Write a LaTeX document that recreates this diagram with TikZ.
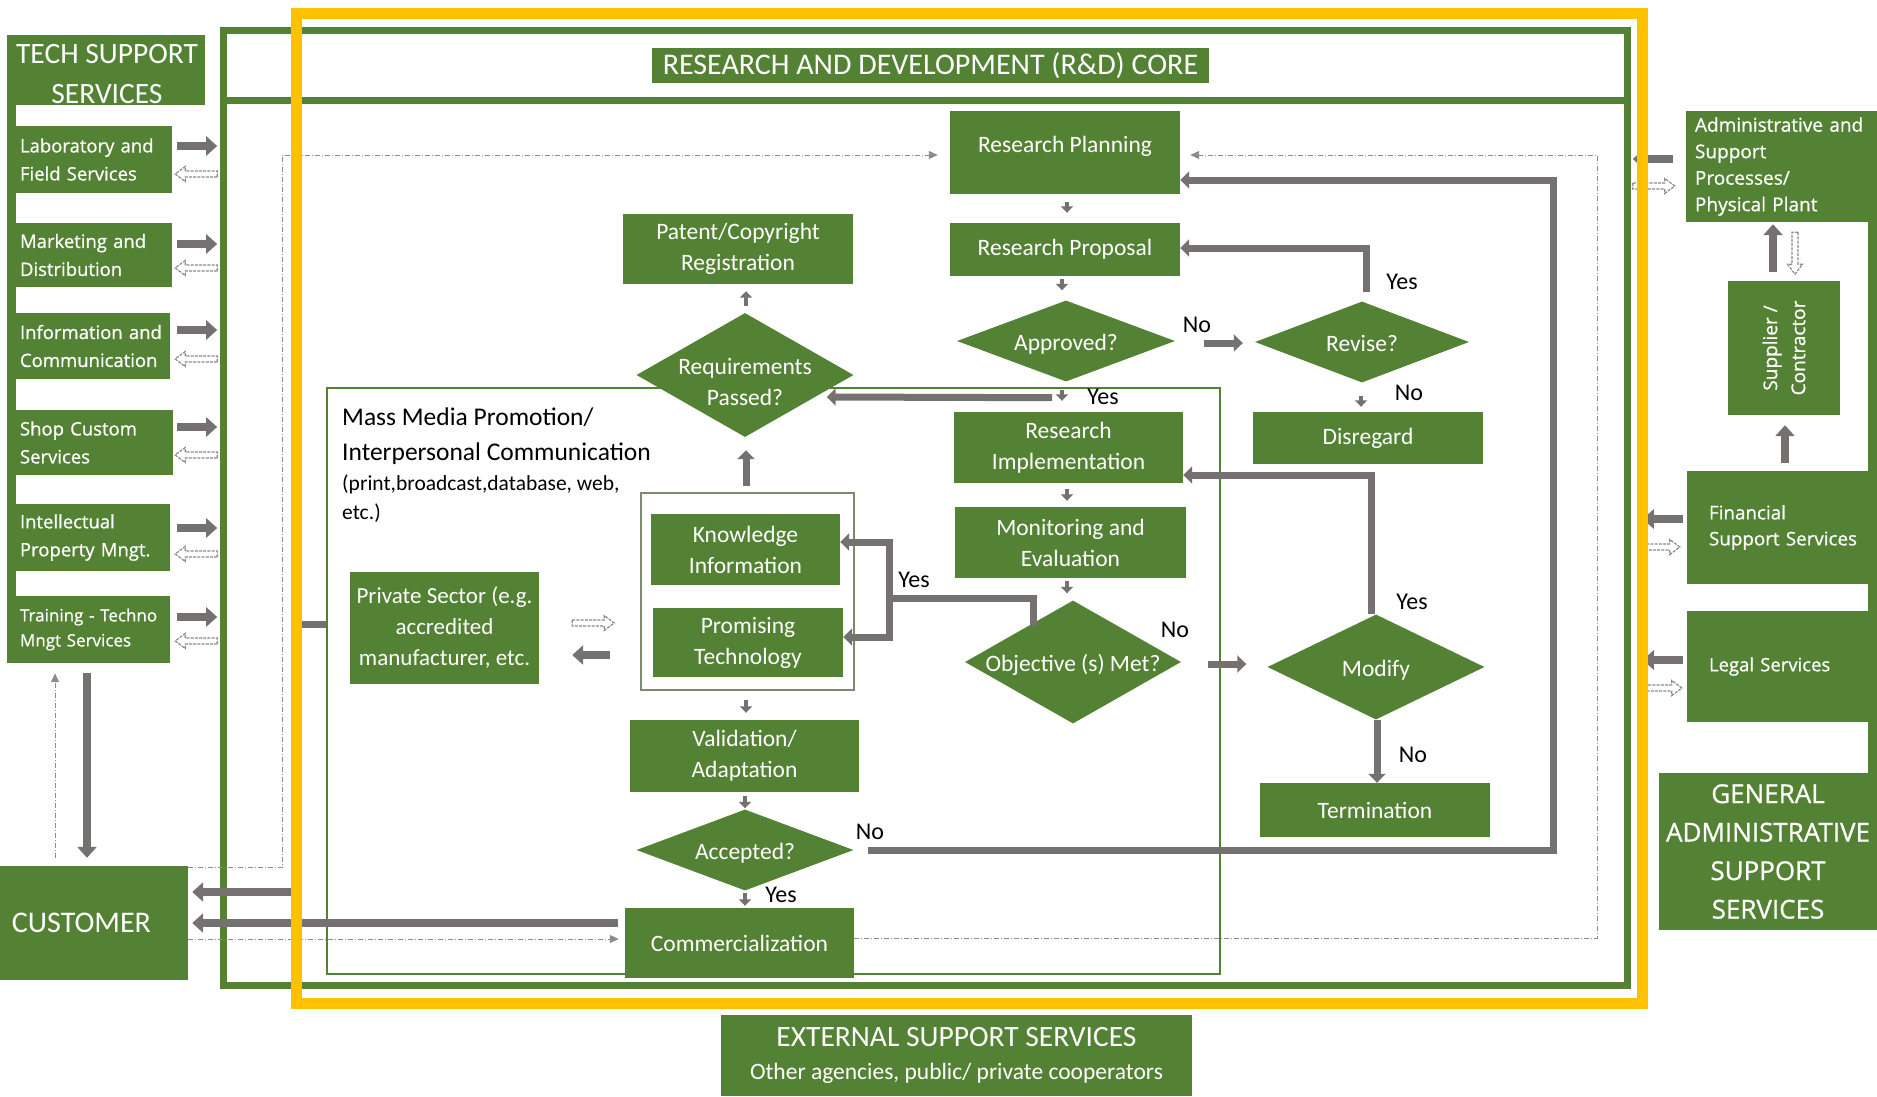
\documentclass[tikz,border=0pt]{standalone}
\usepackage{fontspec}
\setmainfont{Carlito}
\newfontfamily\osans{Open Sans}[FakeBold=0.7]
\usetikzlibrary{shapes.geometric,arrows.meta,calc}
\definecolor{dgreen}{HTML}{548235}
\definecolor{agray}{HTML}{767171}
\definecolor{ygold}{HTML}{FFC000}
\definecolor{dgray}{HTML}{8C8C8C}
\definecolor{hgray}{HTML}{8A8A8A}
\definecolor{fgray}{HTML}{7D8A70}
\newcommand{\dtxt}[2][-.42em]{\smash{\makebox[0pt]{\raisebox{#1}{\begin{tabular}{@{}c@{}}#2\end{tabular}}}}}
\tikzset{
  harrow/.pic={\path[draw=hgray, line width=1.2pt, dash pattern=on 3pt off 1.2pt, fill=white] (0,-3) -- (32,-3) -- (32,-7.5) -- (42,0) -- (32,7.5) -- (32,3) -- (0,3) -- cycle;}
}
\begin{document}
\begin{tikzpicture}[x=1pt,y=-1pt,
  gbox/.style={fill=dgreen, draw=none, text=white, inner sep=0pt, align=center, font=\fontsize{23.5}{31}\selectfont},
  gdia/.style={diamond, fill=dgreen, draw=none, text=white, inner sep=0pt, font=\fontsize{23.5}{31}\selectfont},
  sbox/.style={fill=dgreen, draw=none, text=white, inner ysep=0pt, inner xsep=4pt, align=left, font=\osans\fontsize{18.5}{28}\selectfont},
  lbl/.style={text=black, inner sep=0pt, font=\fontsize{24}{28}\selectfont},
  flowarr/.style={draw=agray, line width=7pt, -{Triangle[length=9pt,width=17pt]}},
  flowline/.style={draw=agray, line width=7pt},
  smallarr/.style={draw=agray, line width=4.5pt, -{Triangle[length=6.5pt,width=12pt]}},
  blockarr/.style={draw=agray, line width=8pt, -{Triangle[length=11pt,width=19pt]}},
  ddl/.style={draw=dgray, line width=1pt, dash pattern=on 5pt off 2pt on 1pt off 2pt},
  ddarr/.style={ddl, -{Triangle[length=9pt,width=8pt]}}
]
\fill[white] (0,0) rectangle (1877,1096);
\useasboundingbox (0,0) rectangle (1877,1096);

% ---- frames
\node[draw=dgreen, line width=7pt, minimum width=1404, minimum height=955, inner sep=0pt] (outer) at (925,507.5) {};
\draw[dgreen, line width=7pt] (outer.west |- 0,100) -- (outer.east |- 0,100);
\node[draw=dgreen, line width=2pt, minimum width=893, minimum height=586, inner sep=0pt] (mass) at (773.5,681) {};
\node[draw=fgray, line width=1.5pt, minimum width=213, minimum height=197, inner sep=0pt] (kif) at (747.5,591.5) {};

% ---- left column
\node[fill=dgreen, minimum width=198, minimum height=70, inner sep=0pt] (tsHead) at (106,70) {};
\node[text=white, align=center, inner sep=0pt, font=\fontsize{29.5}{40}\selectfont] (tsT) at (107,74) {TECH SUPPORT\\SERVICES};
\node[fill=dgreen, minimum width=9, minimum height=628, inner sep=0pt] (lstrip) at (11.5,349) {};
\node[sbox, minimum width=156, minimum height=67, text width=148] (lab) at (94,159.5) {Laboratory and\\Field Services};
\node[sbox, minimum width=156, minimum height=64, text width=148] (mkt) at (94,255) {Marketing and\\Distribution};
\node[sbox, minimum width=154, minimum height=66, text width=146] (info) at (93,346) {Information and\\Communication};
\node[sbox, minimum width=157, minimum height=65, text width=149] (shop) at (94.5,442.5) {Shop Custom\\Services};
\node[sbox, minimum width=154, minimum height=67, text width=146] (ip) at (93,537.5) {Intellectual\\Property Mngt.};
\node[sbox, minimum width=154, minimum height=67, text width=146, font=\osans\fontsize{17}{25}\selectfont] (train) at (93,629.5) {\mbox{Training - Techno}\\Mngt Services};
\node[fill=dgreen, text=white, minimum width=188, minimum height=114, inner xsep=12pt, inner ysep=0pt, text width=164, align=left, font=\fontsize{30}{34}\selectfont] (cust) at (94,923) {CUSTOMER};

% ---- right column
\node[sbox, inner xsep=9pt, text width=173, minimum width=191, minimum height=111, font=\osans\fontsize{19}{26.5}\selectfont] (admin) at (1781.5,166.5) {\mbox{Administrative and}\\Support\\Processes/\\Physical Plant};
\node[fill=dgreen, minimum width=9, minimum height=662, inner sep=0pt] (rstrip) at (1872.5,442) {};
\node[gbox, minimum width=112, minimum height=134] (supp) at (1784,348) {};
\node[text=white, rotate=90, align=center, inner sep=0pt, font=\osans\fontsize{19}{28}\selectfont] (suppT) at (supp.center) {Supplier /\\Contractor};
\node[sbox, inner xsep=22pt, text width=146, minimum width=190, minimum height=113, font=\osans\fontsize{18.8}{26}\selectfont] (fin) at (1782,527.5) {Financial\\\mbox{Support Services}};
\node[sbox, inner xsep=22pt, text width=146, minimum width=190, minimum height=111, font=\osans\fontsize{18.5}{26}\selectfont] (legal) at (1782,666.5) {\mbox{Legal Services}};
\node[gbox, minimum width=218, minimum height=157, font=\osans\fontsize{26}{38.5}\selectfont] (gen) at (1768,851.5) {GENERAL\\ADMINISTRATIVE\\SUPPORT\\SERVICES};

% ---- bottom
\node[gbox, minimum width=471, minimum height=81, font=\fontsize{29.5}{33}\selectfont] (ext) at (956.5,1055.5) {EXTERNAL SUPPORT SERVICES\\{\fontsize{23.5}{26}\selectfont Other agencies, public/ private cooperators}};

% ---- core
\node[gbox, minimum width=557, minimum height=35, font=\fontsize{30}{34}\selectfont] (title) at (930.5,65.5) {RESEARCH AND DEVELOPMENT (R\&D) CORE};
\node[gbox, minimum width=230, minimum height=83] (rp) at (1065,152.5) {};
\node[text=white, inner sep=0pt, font=\fontsize{23.5}{31}\selectfont] (rpT) at (1065,146) {Research Planning};
\node[gbox, minimum width=230, minimum height=53] (prop) at (1065,249.5) {Research Proposal};
\node[gdia, minimum width=218, minimum height=81] (appr) at (1066,341) {\dtxt{Approved?}};
\node[gdia, minimum width=214, minimum height=81] (rev) at (1362,342) {\dtxt{Revise?}};
\node[gbox, minimum width=230, minimum height=52] (disr) at (1368,438) {Disregard};
\node[gbox, minimum width=229, minimum height=71] (ri) at (1068.5,447.5) {Research\\Implementation};
\node[gbox, minimum width=231, minimum height=71] (me) at (1070.5,542.5) {Monitoring and\\Evaluation};
\node[gdia, minimum width=216, minimum height=123] (obj) at (1073,662) {\dtxt{Objective (s) Met?}};
\node[gdia, minimum width=217, minimum height=105] (mod) at (1376,667) {\dtxt{Modify}};
\node[gbox, minimum width=230, minimum height=54] (term) at (1375,810) {Termination};
\node[gbox, minimum width=230, minimum height=70] (pat) at (738,249) {Patent/Copyright\\Registration};
\node[gdia, minimum width=217, minimum height=124] (req) at (745,375) {\dtxt[-.65em]{Requirements\\Passed?}};
\node[gbox, minimum width=189, minimum height=71] (ki) at (745.5,549.5) {Knowledge\\Information};
\node[gbox, minimum width=190, minimum height=69] (pt) at (748,642.5) {Promising\\Technology};
\node[gbox, minimum width=229, minimum height=72] (val) at (744.5,756) {Validation/\\Adaptation};
\node[gdia, minimum width=217, minimum height=81] (acc) at (745,850) {\dtxt{Accepted?}};
\node[gbox, minimum width=229, minimum height=70] (comm) at (739.5,943) {Commercialization};
\node[gbox, minimum width=189, minimum height=112, font=\fontsize{23}{31}\selectfont] (priv) at (444.5,628) {Private Sector (e.g.\\accredited\\manufacturer, etc.};

% mass media text
\node[anchor=base west, inner sep=0pt, font=\fontsize{25.5}{28}\selectfont] (mm1) at (342,425) {Mass Media Promotion/};
\node[anchor=base west, inner sep=0pt, font=\fontsize{25.5}{28}\selectfont] (mm2) at (342,460) {Interpersonal Communication};
\node[anchor=base west, inner sep=0pt, font=\fontsize{21.5}{23}\selectfont] (mm3) at (342,490) {(print,broadcast,database, web,};
\node[anchor=base west, inner sep=0pt, font=\fontsize{21.5}{23}\selectfont] (mm4) at (342,519) {etc.)};

% labels
\node[lbl] (l1) at (1197,325) {No};
\node[lbl] (l2) at (1402,282) {Yes};
\node[lbl] (l3) at (1409,393) {No};
\node[lbl] (l4) at (1103,397) {Yes};
\node[lbl] (l5) at (914,580) {Yes};
\node[lbl] (l6) at (1175,630) {No};
\node[lbl] (l7) at (1412,602) {Yes};
\node[lbl] (l8) at (1413,755) {No};
\node[lbl] (l9) at (870,832) {No};
\node[lbl] (l10) at (781,895) {Yes};

% ---- dash-dot connectors
\coordinate (ddL) at (282,155);
\coordinate (ddR) at (1597,155);
\draw[ddarr] ($(cust.north east)+(0,2)$) -| (ddL) -- ($(rp.west)+(-12,2.5)$);
\draw[ddarr] ($(comm.east)+(0,-5)$) -| (ddR) -- ($(rp.east)+(10,2.5)$);
\draw[ddarr] ($(cust.east)+(0,16)$) -- ($(comm.west)+(-6,-4)$);
\draw[ddarr] ($(cust.north)+(-39,-8)$) -- ($(train.south)+(-38,10)$);

% ---- flow connectors
\draw[smallarr] ($(rp.south)+(2,8)$) -- ($(prop.north)+(2,-10)$);
\draw[smallarr] ($(prop.south)+(-3,3)$) -- ($(appr.north)+(-4,-10)$);
\draw[flowarr] ($(appr.east)+(29,2)$) -- ($(rev.west)+(-12,1)$);
\draw[flowarr] ($(rev.north)+(4,-9)$) |- ($(prop.east)+(0,-1.5)$);
\draw[smallarr] ($(rev.south)+(-1,13)$) -- ($(disr.north)+(-7,-5)$);
\draw[smallarr] ($(appr.south)+(-4,8)$) -- ($(ri.north)+(-6.5,-11)$);
\draw[flowarr] ($(appr.south)+(-14,16)$) -- ($(req.east)+(-27,22)$);
\coordinate (loopR) at (1553,850);
\draw[flowarr] ($(acc.east)+(14,0)$) -- (loopR) |- ($(rp.east)+(0,27.5)$);
\draw[smallarr] ($(ri.south)+(-1.5,6)$) -- ($(me.north)+(-3.5,-6)$);
\draw[smallarr] ($(me.south)+(-3.5,3)$) -- ($(obj.north)+(-6,-7)$);
\draw[flowarr] ($(obj.east)+(27,2)$) -- ($(mod.west)+(-21,-3)$);
\draw[flowarr] ($(mod.north)+(-5,0)$) |- ($(ri.east)+(0,27.5)$);
\draw[flowarr] ($(mod.south)+(1,0)$) -- ($(term.north)+(2,0)$);
\coordinate (yesJ) at (889,598);
\draw[flowline, line cap=rect] ($(obj.north)+(-40,22)$) |- (yesJ);
\draw[flowarr] (yesJ) |- ($(ki.east)+(0,-7.5)$);
\draw[flowarr] (yesJ) |- ($(pt.east)+(0,-5.5)$);
\draw[flowarr] ($(kif.north)+(-1.5,-6)$) -- ($(req.south)+(1,13)$);
\draw[smallarr] ($(req.north)+(1,-7)$) -- ($(pat.south)+(8,7)$);
\draw[smallarr] ($(kif.south)+(-1.5,9)$) -- ($(val.north)+(1.5,-7)$);
\draw[smallarr] ($(val.south)+(0.5,4)$) -- ($(acc.north)+(0,-1)$);
\draw[smallarr] ($(acc.south)+(0,2)$) -- ($(comm.north)+(5.5,-2)$);

% private sector arrows
\draw[blockarr] ($(kif.west)+(-30,63.5)$) -- ($(priv.east)+(33,27)$);
\pic at ($(priv.east)+(33,-5)$) {harrow};

% customer arrows
\coordinate (frameC) at (300,892);
\coordinate (frameM) at (296,624);
\draw[blockarr] (frameC) -- ($(cust.east)+(4,-31)$);
\draw[blockarr] ($(comm.west)+(-7,-20)$) -- ($(cust.east)+(4,0)$);
\draw[flowline] (frameM) -- (frameM -| mass.west);
\draw[blockarr] ($(train.south)+(-6,10)$) -- ($(cust.north)+(-7,-8)$);

% left side arrows
\draw[blockarr] ($(lab.east)+(5,-13.5)$) -- ++(40,0);
\pic[rotate=180] at ($(lab.east)+(45,14.5)$) {harrow};
\draw[blockarr] ($(mkt.east)+(5,-11)$) -- ++(40,0);
\pic[rotate=180] at ($(mkt.east)+(45,13)$) {harrow};
\draw[blockarr] ($(info.east)+(7,-16)$) -- ++(40,0);
\pic[rotate=180] at ($(info.east)+(47,13)$) {harrow};
\draw[blockarr] ($(shop.east)+(4,-15.5)$) -- ++(40,0);
\pic[rotate=180] at ($(shop.east)+(44,12.5)$) {harrow};
\draw[blockarr] ($(ip.east)+(7,-9.5)$) -- ++(40,0);
\pic[rotate=180] at ($(ip.east)+(47,16.5)$) {harrow};
\draw[blockarr] ($(train.east)+(7,-12.5)$) -- ++(40,0);
\pic[rotate=180] at ($(train.east)+(47,11.5)$) {harrow};

% right side arrows
\draw[blockarr] ($(admin.west)+(-13,-7.5)$) -- ++(-40,0);
\pic at ($(admin.west)+(-53,19.5)$) {harrow};
\draw[blockarr] ($(fin.west)+(-4,-8.5)$) -- ++(-40,0);
\pic at ($(fin.west)+(-49,19.5)$) {harrow};
\draw[blockarr] ($(legal.west)+(-4,-6.5)$) -- ++(-40,0);
\pic at ($(legal.west)+(-47,21.5)$) {harrow};
\draw[blockarr] ($(supp.north)+(-11,-9)$) -- ($(admin.south)+(-8.5,2)$);
\pic[rotate=-90] at ($(admin.south)+(13.5,10)$) {harrow};
\draw[blockarr] ($(fin.north)+(3,-8)$) -- ($(supp.south)+(1,10)$);

% ---- yellow highlight
\draw[ygold, line width=11pt] (296,13) rectangle (1642,1003);
\end{tikzpicture}
\end{document}
